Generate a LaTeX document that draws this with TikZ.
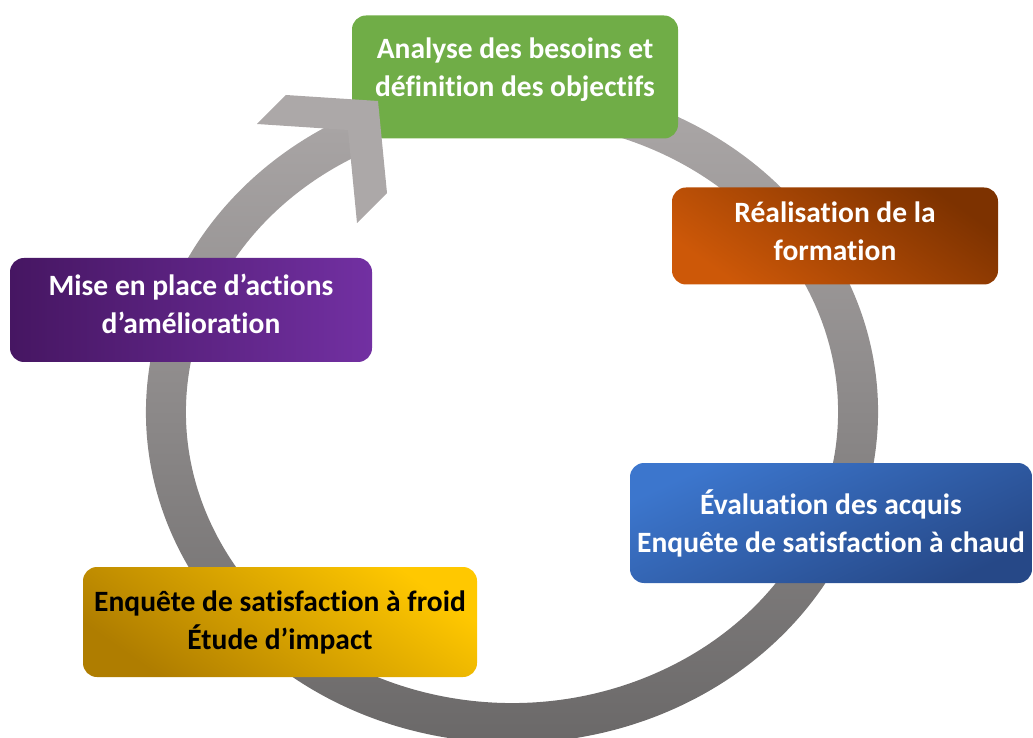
\documentclass[tikz,border=0pt]{standalone}
\usepackage{fontspec}
\setmainfont{Carlito}[Ligatures=NoCommon]
\usepackage{xcolor}
\usepackage{tikz}
\usetikzlibrary{arrows,positioning,shapes.geometric}

\definecolor{ringtop}{RGB}{172,168,168}
\definecolor{ringbot}{RGB}{104,102,102}
\definecolor{greenbox}{RGB}{112,173,71}
\definecolor{orangelight}{RGB}{205,88,8}
\definecolor{orangedark}{RGB}{125,50,0}
\definecolor{bluelight}{RGB}{60,118,205}
\definecolor{bluedark}{RGB}{38,72,135}
\definecolor{purpledark}{RGB}{70,22,98}
\definecolor{purplelight}{RGB}{114,48,162}
\definecolor{yellowdark}{RGB}{175,125,0}
\definecolor{yellowlight}{RGB}{255,200,0}

\tikzset{
    stagebox/.style={rectangle, rounded corners=14pt, align=center,
        font=\fontsize{29.5}{38}\selectfont\bfseries, text=white, inner sep=0pt},
}

\begin{document}
\begin{tikzpicture}[x=1pt,y=1pt]
    \useasboundingbox (0,0) rectangle (1033,737);

    % Cycle ring
    \shade[top color=ringtop, bottom color=ringbot, shift={(512,325)}]
        (80:366 and 331) arc[start angle=80, end angle=-245, x radius=366, y radius=331]
        -- (-245:326 and 291) arc[start angle=-245, end angle=80, x radius=326, y radius=291]
        -- cycle;

    % Stages
    \node[stagebox, fill=greenbox, minimum width=326, minimum height=123] (needs) at (515,660) {
        Analyse des besoins et\\
        définition des objectifs\\[-18pt]
    };

    \node[stagebox, top color=orangedark, bottom color=orangelight, shading angle=-35,
          minimum width=326, minimum height=97] (training) at (835,501) {
        Réalisation de la\\
        formation\\[-29pt]
    };

    \node[stagebox, top color=bluelight, bottom color=bluedark, shading angle=25,
          minimum width=402, minimum height=120] (hoteval) at (831,214) {
        Évaluation des acquis\\
        Enquête de satisfaction à chaud
    };

    \node[stagebox, top color=yellowlight, bottom color=yellowdark, shading angle=-35,
          minimum width=394, minimum height=110, text=black] (coldeval) at (280,115) {
        Enquête de satisfaction à froid\\
        Étude d’impact
    };

    \node[stagebox, left color=purpledark, right color=purplelight,
          minimum width=362, minimum height=104] (improve) at (191,427) {
        Mise en place d’actions\\
        d’amélioration\\[-25pt]
    };

    % Arrow head
    \fill[ringtop] (257,613) -- (286,642) -- (378,636) -- (387,544)
        -- (357,514) -- (348,607) -- cycle;
\end{tikzpicture}
\end{document}
